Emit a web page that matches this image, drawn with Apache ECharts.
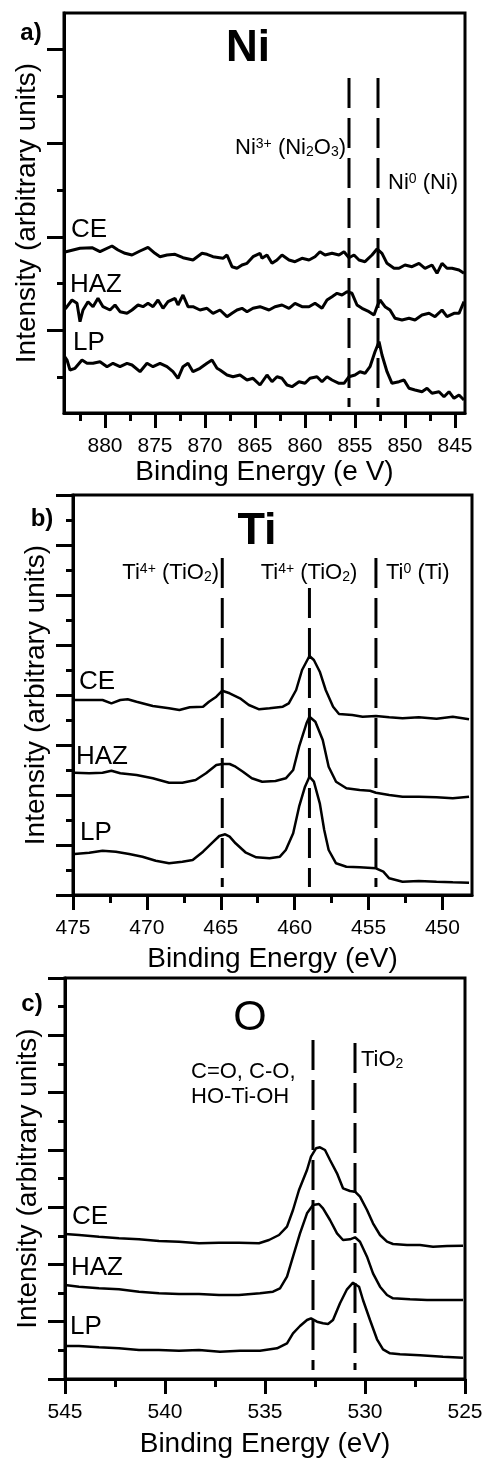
<!DOCTYPE html>
<html>
<head>
<meta charset="utf-8">
<style>
  html, body { margin: 0; padding: 0; background: #fff; }
  #chart { width: 488px; height: 1458px; }
</style>
<script src="https://cdn.jsdelivr.net/npm/echarts@6.0.0/dist/echarts.min.js"></script>
</head>
<body>
<div id="chart"></div>
<script>
// [binding energy (eV), intensity (arbitrary units)]
const niCE = [[884.0,161],[883.8,163],[882.5,164.7],[881.3,165.3],[880.5,161.3],[879.3,167],[878.7,163],[878,159.7],[877.3,158],[876.5,162],[875.7,165.7],[875,159.7],[874.5,156.3],[873.8,158],[873,158.7],[872.2,155.3],[871.2,153],[870.3,159.7],[869.8,158.7],[869.2,156.3],[868.2,154.7],[867.8,158],[867.3,146.3],[866.8,144.7],[866.3,148],[865.8,149.7],[865.2,156.3],[864.5,159.7],[864.3,154.7],[863.8,158],[863.3,149.7],[862.8,153],[862.3,158],[861.6,153],[861,151.3],[860.3,154.7],[859.6,153],[859,156.3],[858.5,161.3],[858,158],[857.3,159.7],[856.6,158],[856.1,161.3],[855.6,155.3],[855.1,158],[854.6,153],[854,151.3],[853.3,158],[852.8,164],[852.3,159.7],[851.8,149.7],[851.1,144.7],[850.6,144.7],[850,148],[849.3,146.3],[848.6,149.7],[848,144.7],[847.3,148],[846.8,139.7],[846.3,149.7],[845.8,144.7],[845.3,144.7],[844.6,143],[844.1,139.7]];
const niHAZ = [[884.0,104],[883.8,106.3],[883.3,113],[882.8,109.7],[882.5,91.3],[882.2,103],[881.7,111.3],[881.2,106.3],[880.7,114.7],[880.2,106.3],[879.5,103],[879,108],[878.5,101.3],[877.8,99.7],[877.3,103],[876.7,108],[876.2,106.3],[875.7,109.7],[875.2,106.3],[874.7,113],[874.2,104.7],[873.7,111.3],[873,114.7],[872.7,108],[872.2,118],[871.7,106.3],[871.2,106.3],[870.5,103],[869.8,104.7],[869.2,99.7],[868.5,103],[867.8,96.3],[867.3,99.7],[866.8,103],[866.3,104.7],[865.8,101.3],[865.2,104.7],[864.5,106.3],[864.3,108],[863.6,103],[863,106.3],[862.3,108],[861.6,104.7],[861,109.7],[860.3,106.3],[859.6,106.3],[859,109.7],[858.3,104.7],[857.8,113],[857.3,116.3],[856.8,119.7],[856.3,118],[855.8,121.3],[855.3,119.7],[854.8,108],[854.3,104.7],[853.6,101.3],[853.1,98],[852.8,106.3],[852.5,113],[852,106.3],[851.5,103],[851,94.7],[850.3,93],[849.6,94.7],[849,93],[848.3,98],[847.6,99.7],[847,96.3],[846.3,103],[845.8,96.3],[845.1,99.7],[844.6,99.7],[844.1,111.3]];
const niLP = [[884.0,56],[883.8,53],[883.5,43],[883,44.7],[882.3,53],[881.8,49.7],[881.2,49.7],[880.5,51.3],[879.8,46.3],[879.2,49.7],[878.5,46.3],[877.8,49.7],[877.3,48],[876.5,41.3],[875.8,49.7],[875.2,46.3],[874.5,49.7],[873.8,46.3],[873.2,41.3],[872.7,34.7],[872.2,46.3],[871.7,49.7],[871.2,41.3],[870.5,44.7],[869.8,49.7],[869.3,53],[868.8,44.7],[868.5,43],[867.8,38],[867.2,36.3],[866.5,38],[865.8,33],[865.2,34.7],[864.5,28],[863.8,38],[863.3,31.3],[862.8,36.3],[862.3,34.7],[861.8,28],[861.3,26.3],[860.6,31.3],[860,29.7],[859.5,34.7],[858.8,36.3],[858.3,31.3],[857.8,36.3],[857.3,33],[856.6,29.7],[856.1,29.7],[855.6,36.3],[855,38],[854.5,41.3],[854,39.7],[853.5,46.3],[853,61.3],[852.6,71.3],[852.3,58],[851.8,41.3],[851.3,29.7],[850.6,31.3],[850.1,33],[849.6,24.7],[849,23],[848.3,21.3],[847.8,24.7],[847.3,19.7],[846.6,21.3],[846.1,16.3],[845.6,21.3],[845.1,14.7],[844.6,18],[844.1,13]];

const tiCE = [[474.9,195],[473.9,195],[473,195],[472.4,191.7],[471.8,195],[471.3,195.7],[470.7,193.3],[469.6,189],[468.5,186.7],[467.8,185],[467.1,187.7],[466.2,188.3],[465.8,193.3],[465.3,198.3],[464.9,204.3],[464.4,201.7],[463.7,196.7],[463.1,190],[462.4,185.7],[461.7,186.7],[460.8,188.3],[460.4,191.7],[459.9,205],[459.5,225],[459,239],[458.7,235],[458.3,223.3],[457.9,205],[457.4,188.3],[457,181],[456.1,180],[455.4,178.3],[454.5,179],[453.6,177.7],[452.7,176.7],[451.6,177.7],[450.4,176.3],[449.3,178.3],[448.2,175.7]];
const tiHAZ = [[474.9,122.3],[473.9,121.7],[473,122.3],[472.4,124.3],[471.8,121.7],[470.7,120],[469.6,116.7],[468.5,112.3],[467.6,112.3],[466.7,115],[466,121.7],[465.3,130],[464.9,131],[464.4,131],[464,128.3],[463.5,123.3],[462.9,116.7],[462.2,113.3],[461.3,114],[460.6,116.7],[460.1,125],[459.7,148.3],[459.2,171.7],[459,178.3],[458.6,173.3],[458.1,155],[457.7,128.3],[457.2,113.3],[456.5,106.7],[455.6,105],[454.9,104.3],[454.5,102.3],[453.6,100],[452.7,98.3],[451.6,98.3],[450.4,97.7],[449.3,96.7],[448.2,98.3]];
const tiLP = [[474.9,41],[473.9,42.3],[473,44.3],[472.1,43.3],[471.2,41],[470.3,38.3],[469.4,34.3],[468.5,31.7],[467.6,33.3],[466.9,35],[466.2,43.3],[465.5,53.3],[465.1,59],[464.7,60.7],[464.4,58.3],[464,51.7],[463.3,42.3],[462.6,37.7],[461.7,36.7],[461,38.3],[460.6,45],[460.1,61.7],[459.7,88.3],[459.3,108.3],[459,118.3],[458.7,113.3],[458.3,91.7],[458,65],[457.7,45],[457.2,31.7],[456.5,28.3],[455.6,27.7],[454.5,26.7],[454,23.3],[453.6,16.7],[452.7,13.3],[451.6,14],[450.4,13.3],[449.3,12.7],[448.2,12.3]];

const oCE = [[545,145],[544.3,144],[543.3,142.3],[542.3,140.7],[541.3,139.7],[540.3,138],[539.3,137.3],[538.3,135.7],[537.3,136.3],[536.3,136.3],[535.3,135.7],[534.8,139],[534.3,144],[533.9,152.3],[533.6,169],[533.3,189],[532.9,209],[532.7,222.3],[532.45,230.7],[532.25,231.7],[532,229],[531.75,219],[531.4,205.7],[531.1,190.7],[530.75,188],[530.5,187.3],[530.25,182.3],[529.9,169],[529.6,155.7],[529.25,144],[528.9,137.3],[528.6,135],[527.9,134],[527.25,134],[526.6,132.3],[525.9,133],[525.1,133.3]];
const oHAZ = [[545,94],[544.3,92.3],[543.3,90.7],[542.3,89.7],[541.3,87.3],[540.3,85.7],[539.3,85],[538.3,85],[537.3,84],[536.3,84],[535.25,85.7],[534.6,87.3],[534.25,90.7],[533.9,102.3],[533.6,122.3],[533.25,145.7],[532.9,165.7],[532.6,174],[532.3,175],[532.1,170.7],[531.75,159],[531.4,145.7],[531.1,139],[530.75,139.7],[530.5,141.7],[530.25,137.3],[529.9,122.3],[529.6,105.7],[529.25,92.3],[528.9,84],[528.6,80.7],[527.75,79.7],[526.9,79],[526.1,79],[525.1,79]];
const oLP = [[545,33],[544.3,33],[543.3,31.7],[542.3,30.7],[541.3,29],[540.3,29],[539.3,28.3],[538.3,29],[537.25,27.3],[536.25,28.3],[535.25,28.3],[534.4,30.7],[533.9,35.7],[533.6,45.7],[533.25,53],[532.9,59],[532.7,60.7],[532.4,57.3],[532.1,55.7],[531.85,55],[531.6,59],[531.25,75.7],[530.9,89.7],[530.6,96.3],[530.3,92.3],[530.1,79],[529.75,59],[529.4,39.7],[529.1,29.7],[528.75,25.7],[528.25,24.7],[527.25,23.7],[526.1,22.3],[525.1,21.3]];

// reference lines: [energy, top, bottom]
const niRefs = [[855.6, 335, 6], [852.7, 335, 6]];
const tiRefs = [[464.9, 337, 8], [459.0, 307, 8], [454.5, 337, 8]];
const oRefs = [[532.6, 339, 9], [530.5, 336, 9]];

// tick values
const niXMajor = [845, 850, 855, 860, 865, 870, 875, 880];
const niXMinor = [847.5, 852.5, 857.5, 862.5, 867.5, 872.5, 877.5, 882.5];
const niYMajor = [83, 176, 270, 364];
const niYMinor = [36, 130, 223, 317];
const tiXMajor = [450, 455, 460, 465, 470, 475];
const tiXMinor = [452.5, 457.5, 462.5, 467.5, 472.5];
const tiYMajor = [0, 50, 100, 150, 200, 250, 300, 350, 400];
const tiYMinor = [25, 75, 125, 175, 225, 275, 325, 375];
const oXMajor = [525, 530, 535, 540, 545];
const oXMinor = [527.5, 532.5, 537.5, 542.5];
const oYMajor = [0, 57.3, 114.6, 171.9, 229.1, 286.4, 343.7, 401];
const oYMinor = [28.6, 85.9, 143.2, 200.5, 257.8, 315.1, 372.4];

const FONT = '"Liberation Sans", Arial, Helvetica, sans-serif';

const panels = [
  { grid: { left: 64, top: 13, width: 401, height: 400 }, x: [844, 884.1], y: [0, 400],
    xMajor: niXMajor, xMinor: niXMinor, yMajor: niYMajor, yMinor: niYMinor,
    xName: 'Binding Energy (e V)', nameGap: 45, lines: [niCE, niHAZ, niLP], width: 3, refs: niRefs },
  { grid: { left: 73, top: 495, width: 399, height: 400 }, x: [448, 475], y: [0, 400],
    xMajor: tiXMajor, xMinor: tiXMinor, yMajor: tiYMajor, yMinor: tiYMinor,
    xName: 'Binding Energy (eV)', nameGap: 50, lines: [tiCE, tiHAZ, tiLP], width: 2.5, refs: tiRefs },
  { grid: { left: 65, top: 978, width: 400, height: 401 }, x: [525, 545], y: [0, 401],
    xMajor: oXMajor, xMinor: oXMinor, yMajor: oYMajor, yMinor: oYMinor,
    xName: 'Binding Energy (eV)', nameGap: 51, lines: [oCE, oHAZ, oLP], width: 2.5, refs: oRefs }
];

const black = { color: '#000', width: 3 };
const grid = [], xAxis = [], yAxis = [], series = [];

panels.forEach((p, i) => {
  grid.push(Object.assign({ show: true, borderColor: '#000', borderWidth: 3, outerBoundsMode: 'none' }, p.grid));
  const common = { type: 'value', gridIndex: i, splitLine: { show: false } };
  xAxis.push(Object.assign({}, common, {
    position: 'bottom', min: p.x[0], max: p.x[1], inverse: true,
    axisLine: { onZero: false, lineStyle: black },
    axisTick: { length: 15, lineStyle: black, customValues: p.xMajor },
    axisLabel: { customValues: p.xMajor, color: '#000', fontSize: 21, fontFamily: FONT, margin: 23 },
    name: p.xName, nameLocation: 'middle', nameGap: p.nameGap, nameMoveOverlap: false,
    nameTextStyle: { color: '#000', fontSize: 28, fontFamily: FONT }
  }));
  xAxis.push(Object.assign({}, common, {
    position: 'bottom', min: p.x[0], max: p.x[1], inverse: true,
    axisLine: { show: false, onZero: false },
    axisTick: { length: 8, lineStyle: black, customValues: p.xMinor },
    axisLabel: { show: false }
  }));
  yAxis.push(Object.assign({}, common, {
    position: 'left', min: p.y[0], max: p.y[1],
    axisLine: { onZero: false, lineStyle: black },
    axisTick: { length: 17, lineStyle: black, customValues: p.yMajor },
    axisLabel: { show: false },
    name: 'Intensity (arbitrary units)', nameLocation: 'middle', nameGap: 23, nameMoveOverlap: false,
    nameTextStyle: { color: '#000', fontSize: 28, fontFamily: FONT }
  }));
  yAxis.push(Object.assign({}, common, {
    position: 'left', min: p.y[0], max: p.y[1],
    axisLine: { show: false, onZero: false },
    axisTick: { length: 7, lineStyle: black, customValues: p.yMinor },
    axisLabel: { show: false }
  }));
  p.lines.forEach(d => series.push({
    type: 'line', xAxisIndex: 2 * i, yAxisIndex: 2 * i, data: d,
    showSymbol: false, symbol: 'none', silent: true,
    lineStyle: { color: '#000', width: p.width }
  }));
  p.refs.forEach(r => series.push({
    type: 'line', xAxisIndex: 2 * i, yAxisIndex: 2 * i, data: [[r[0], r[1]], [r[0], r[2]]],
    showSymbol: false, symbol: 'none', silent: true,
    lineStyle: { color: '#000', width: 3, type: [30, 10] }
  }));
});

// text labels
const T = (x, y, text, size, extra) => ({
  type: 'text', x, y, silent: true,
  style: Object.assign({ text, fontSize: size, fontFamily: FONT, fill: '#000', align: 'left', verticalAlign: 'middle' }, extra)
});
const subsup = {
  sup: { fontSize: 14, lineHeight: 16, verticalAlign: 'top', fontFamily: FONT },
  sub: { fontSize: 14, lineHeight: 12, verticalAlign: 'bottom', fontFamily: FONT }
};
const R = (x, y, text, align) => T(x, y, text, 22, { align, lineHeight: 22, rich: subsup });

const graphic = [
  T(31, 33, 'a)', 24, { fontWeight: 'bold', align: 'center' }),
  T(248, 49, 'Ni', 44, { fontWeight: 'bold', align: 'center' }),
  R(346, 148, 'Ni{sup|3+} (Ni{sub|2}O{sub|3})', 'right'),
  R(388, 183, 'Ni{sup|0} (Ni)', 'left'),
  T(71, 230, 'CE', 26), T(70, 285, 'HAZ', 26), T(73, 343, 'LP', 26),

  T(42, 519, 'b)', 24, { fontWeight: 'bold', align: 'center' }),
  T(257, 532, 'Ti', 45, { fontWeight: 'bold', align: 'center' }),
  R(219, 573, 'Ti{sup|4+} (TiO{sub|2})', 'right'),
  R(309, 573, 'Ti{sup|4+} (TiO{sub|2})', 'center'),
  R(386, 573, 'Ti{sup|0} (Ti)', 'left'),
  T(79, 682, 'CE', 26), T(76, 757, 'HAZ', 26), T(80, 833, 'LP', 26),

  T(32, 1004, 'c)', 24, { fontWeight: 'bold', align: 'center' }),
  T(250, 1018, 'O', 43, { align: 'center' }),
  T(191, 1072, 'C=O, C-O,', 22),
  T(191, 1097, 'HO-Ti-OH', 22),
  R(361, 1060, 'TiO{sub|2}', 'left'),
  T(72, 1217, 'CE', 26), T(71, 1268, 'HAZ', 26), T(70, 1327, 'LP', 26)
];

const chart = echarts.init(document.getElementById('chart'), null, { renderer: 'canvas' });
chart.setOption({
  backgroundColor: '#fff',
  animation: false,
  grid, xAxis, yAxis, series, graphic
});
</script>
</body>
</html>
